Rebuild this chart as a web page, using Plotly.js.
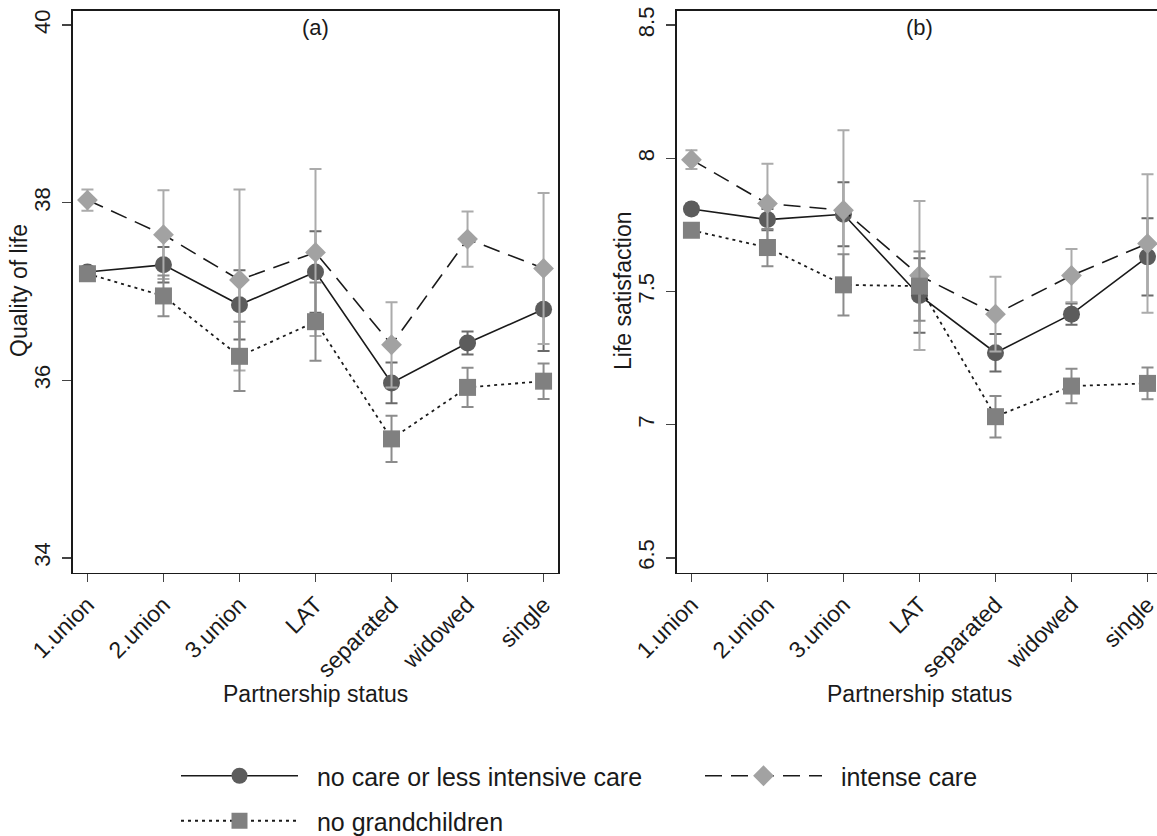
<!DOCTYPE html>
<html>
<head>
<meta charset="utf-8">
<script src="https://cdn.plot.ly/plotly-3.0.1.min.js"></script>
<style>
html,body{margin:0;padding:0;background:#fff;overflow:hidden;}
#chart{width:1157px;height:836px;}
</style>
</head>
<body>
<div id="chart"></div>
<script>
// ---- data ----
const categories = ['1.union','2.union','3.union','LAT','separated','widowed','single'];

// (a) Quality of life
const qolNoCare      = [37.22, 37.30, 36.85, 37.22, 35.97, 36.42, 36.80];
const qolNoCareErr   = [0.06, 0.20, 0.39, 0.46, 0.23, 0.13, 0.47];
const qolIntense     = [38.03, 37.64, 37.13, 37.44, 36.40, 37.59, 37.26];
const qolIntenseErr  = [0.12, 0.50, 1.02, 0.94, 0.48, 0.31, 0.85];
const qolNoGrand     = [37.20, 36.95, 36.27, 36.66, 35.34, 35.92, 35.99];
const qolNoGrandErr  = [0.07, 0.23, 0.39, 0.44, 0.26, 0.22, 0.20];

// (b) Life satisfaction
const lsNoCare       = [7.81, 7.77, 7.79, 7.485, 7.27, 7.415, 7.63];
const lsNoCareErr    = [0.02, 0.04, 0.12, 0.14, 0.07, 0.04, 0.145];
const lsIntense      = [7.995, 7.83, 7.805, 7.56, 7.415, 7.56, 7.68];
const lsIntenseErr   = [0.035, 0.15, 0.30, 0.28, 0.14, 0.10, 0.26];
const lsNoGrand      = [7.73, 7.665, 7.525, 7.52, 7.03, 7.145, 7.155];
const lsNoGrandErr   = [0.025, 0.07, 0.115, 0.13, 0.078, 0.065, 0.06];

const seriesNames = ['no care or less intensive care', 'intense care', 'no grandchildren'];
const qolTickVals = [34, 36, 38, 40];
const lsTickVals = [6.5, 7, 7.5, 8, 8.5];
const lsTickText = ['6.5', '7', '7.5', '8', '8.5'];

// ---- styles ----
const W = 1157, H = 836;
const FONT = 'Liberation Sans, Arial, sans-serif';
const PAD = '\u00a0\u00a0';
const styles = [
  {marker:{symbol:'circle', size:17, color:'#5c5c5c'}, line:{color:'#1a1a1a', width:1.6, dash:'solid'}, err:'#6a6a6a', legend:'legend'},
  {marker:{symbol:'diamond', size:16, color:'#a2a2a2'}, line:{color:'#1a1a1a', width:1.6, dash:'17px,9px'}, err:'#ababab', legend:'legend2'},
  {marker:{symbol:'square', size:17, color:'#808080'}, line:{color:'#1a1a1a', width:1.8, dash:'3px,4px'}, err:'#8c8c8c', legend:'legend3'}
];

function mk(vals, errs, i, xa, ya, show) {
  const s = styles[i];
  return {
    type:'scatter', mode:'lines+markers', x:categories, y:vals,
    xaxis:xa, yaxis:ya, name:PAD + seriesNames[i], showlegend:show, legend:s.legend,
    marker:Object.assign({line:{width:0}}, s.marker),
    line:s.line,
    error_y:{type:'data', array:errs, visible:true, color:s.err, thickness:2, width:6}
  };
}

const traces = [
  mk(qolNoCare, qolNoCareErr, 0, 'x', 'y', true),
  mk(qolIntense, qolIntenseErr, 1, 'x', 'y', true),
  mk(qolNoGrand, qolNoGrandErr, 2, 'x', 'y', true),
  mk(lsNoCare, lsNoCareErr, 0, 'x2', 'y2', false),
  mk(lsIntense, lsIntenseErr, 1, 'x2', 'y2', false),
  mk(lsNoGrand, lsNoGrandErr, 2, 'x2', 'y2', false)
];

const px = v => v / W;
const py = v => 1 - v / H;

const xBase = {
  type:'category', showgrid:false, zeroline:false,
  showline:true, mirror:true, linecolor:'#1a1a1a', linewidth:1.6,
  ticks:'outside', ticklen:8, tickwidth:1.4, tickcolor:'#444',
  tickangle:-45, tickfont:{family:FONT, size:23, color:'#1a1a1a'},
  fixedrange:true
};
const yBase = {
  showgrid:false, zeroline:false, showline:true,
  linecolor:'#1a1a1a', linewidth:1.6,
  ticks:'outside', ticklen:9, tickwidth:1.4, tickcolor:'#444',
  tickangle:-90, tickfont:{family:FONT, size:22, color:'#1a1a1a'},
  ticklabelstandoff:4, fixedrange:true
};

const legendBase = {xanchor:'left', yanchor:'middle', orientation:'h',
  font:{family:FONT, size:25, color:'#1a1a1a'}, itemwidth:117, bgcolor:'rgba(0,0,0,0)', borderwidth:0};

const yDom = [py(572.5), py(10.5)];
const layout = {
  width:W, height:H,
  margin:{l:0, r:0, t:0, b:0, autoexpand:false},
  paper_bgcolor:'#fff', plot_bgcolor:'#fff',
  font:{family:FONT, color:'#1a1a1a'},
  xaxis:Object.assign({}, xBase, {domain:[px(73), px(558)], anchor:'y', range:[-0.19, 6.19]}),
  yaxis:Object.assign({}, yBase, {domain:yDom, anchor:'x', mirror:true, range:[33.835, 40.165], tickvals:qolTickVals}),
  xaxis2:Object.assign({}, xBase, {domain:[px(677), 1], anchor:'y2', range:[-0.19, 6.125]}),
  yaxis2:Object.assign({}, yBase, {domain:yDom, anchor:'x2', mirror:false, range:[6.445, 8.555], tickvals:lsTickVals, ticktext:lsTickText}),
  legend:Object.assign({}, legendBase, {x:px(176), y:py(776)}),
  legend2:Object.assign({}, legendBase, {x:px(700), y:py(776)}),
  legend3:Object.assign({}, legendBase, {x:px(176), y:py(821)}),
  annotations:[
    {text:'(a)', xref:'paper', yref:'paper', x:px(315.5), y:py(27), xanchor:'center', yanchor:'middle', showarrow:false, font:{family:FONT, size:22}},
    {text:'(b)', xref:'paper', yref:'paper', x:px(919), y:py(27), xanchor:'center', yanchor:'middle', showarrow:false, font:{family:FONT, size:22}},
    {text:'Quality of life', xref:'paper', yref:'paper', x:px(19), y:py(291), textangle:-90, xanchor:'center', yanchor:'middle', showarrow:false, font:{family:FONT, size:23}},
    {text:'Life satisfaction', xref:'paper', yref:'paper', x:px(623), y:py(291), textangle:-90, xanchor:'center', yanchor:'middle', showarrow:false, font:{family:FONT, size:23}},
    {text:'Partnership status', xref:'paper', yref:'paper', x:px(315.5), y:py(694), xanchor:'center', yanchor:'middle', showarrow:false, font:{family:FONT, size:23}},
    {text:'Partnership status', xref:'paper', yref:'paper', x:px(919), y:py(694), xanchor:'center', yanchor:'middle', showarrow:false, font:{family:FONT, size:23}}
  ]
};

Plotly.newPlot('chart', traces, layout, {displayModeBar:false, staticPlot:true});
</script>
</body>
</html>
